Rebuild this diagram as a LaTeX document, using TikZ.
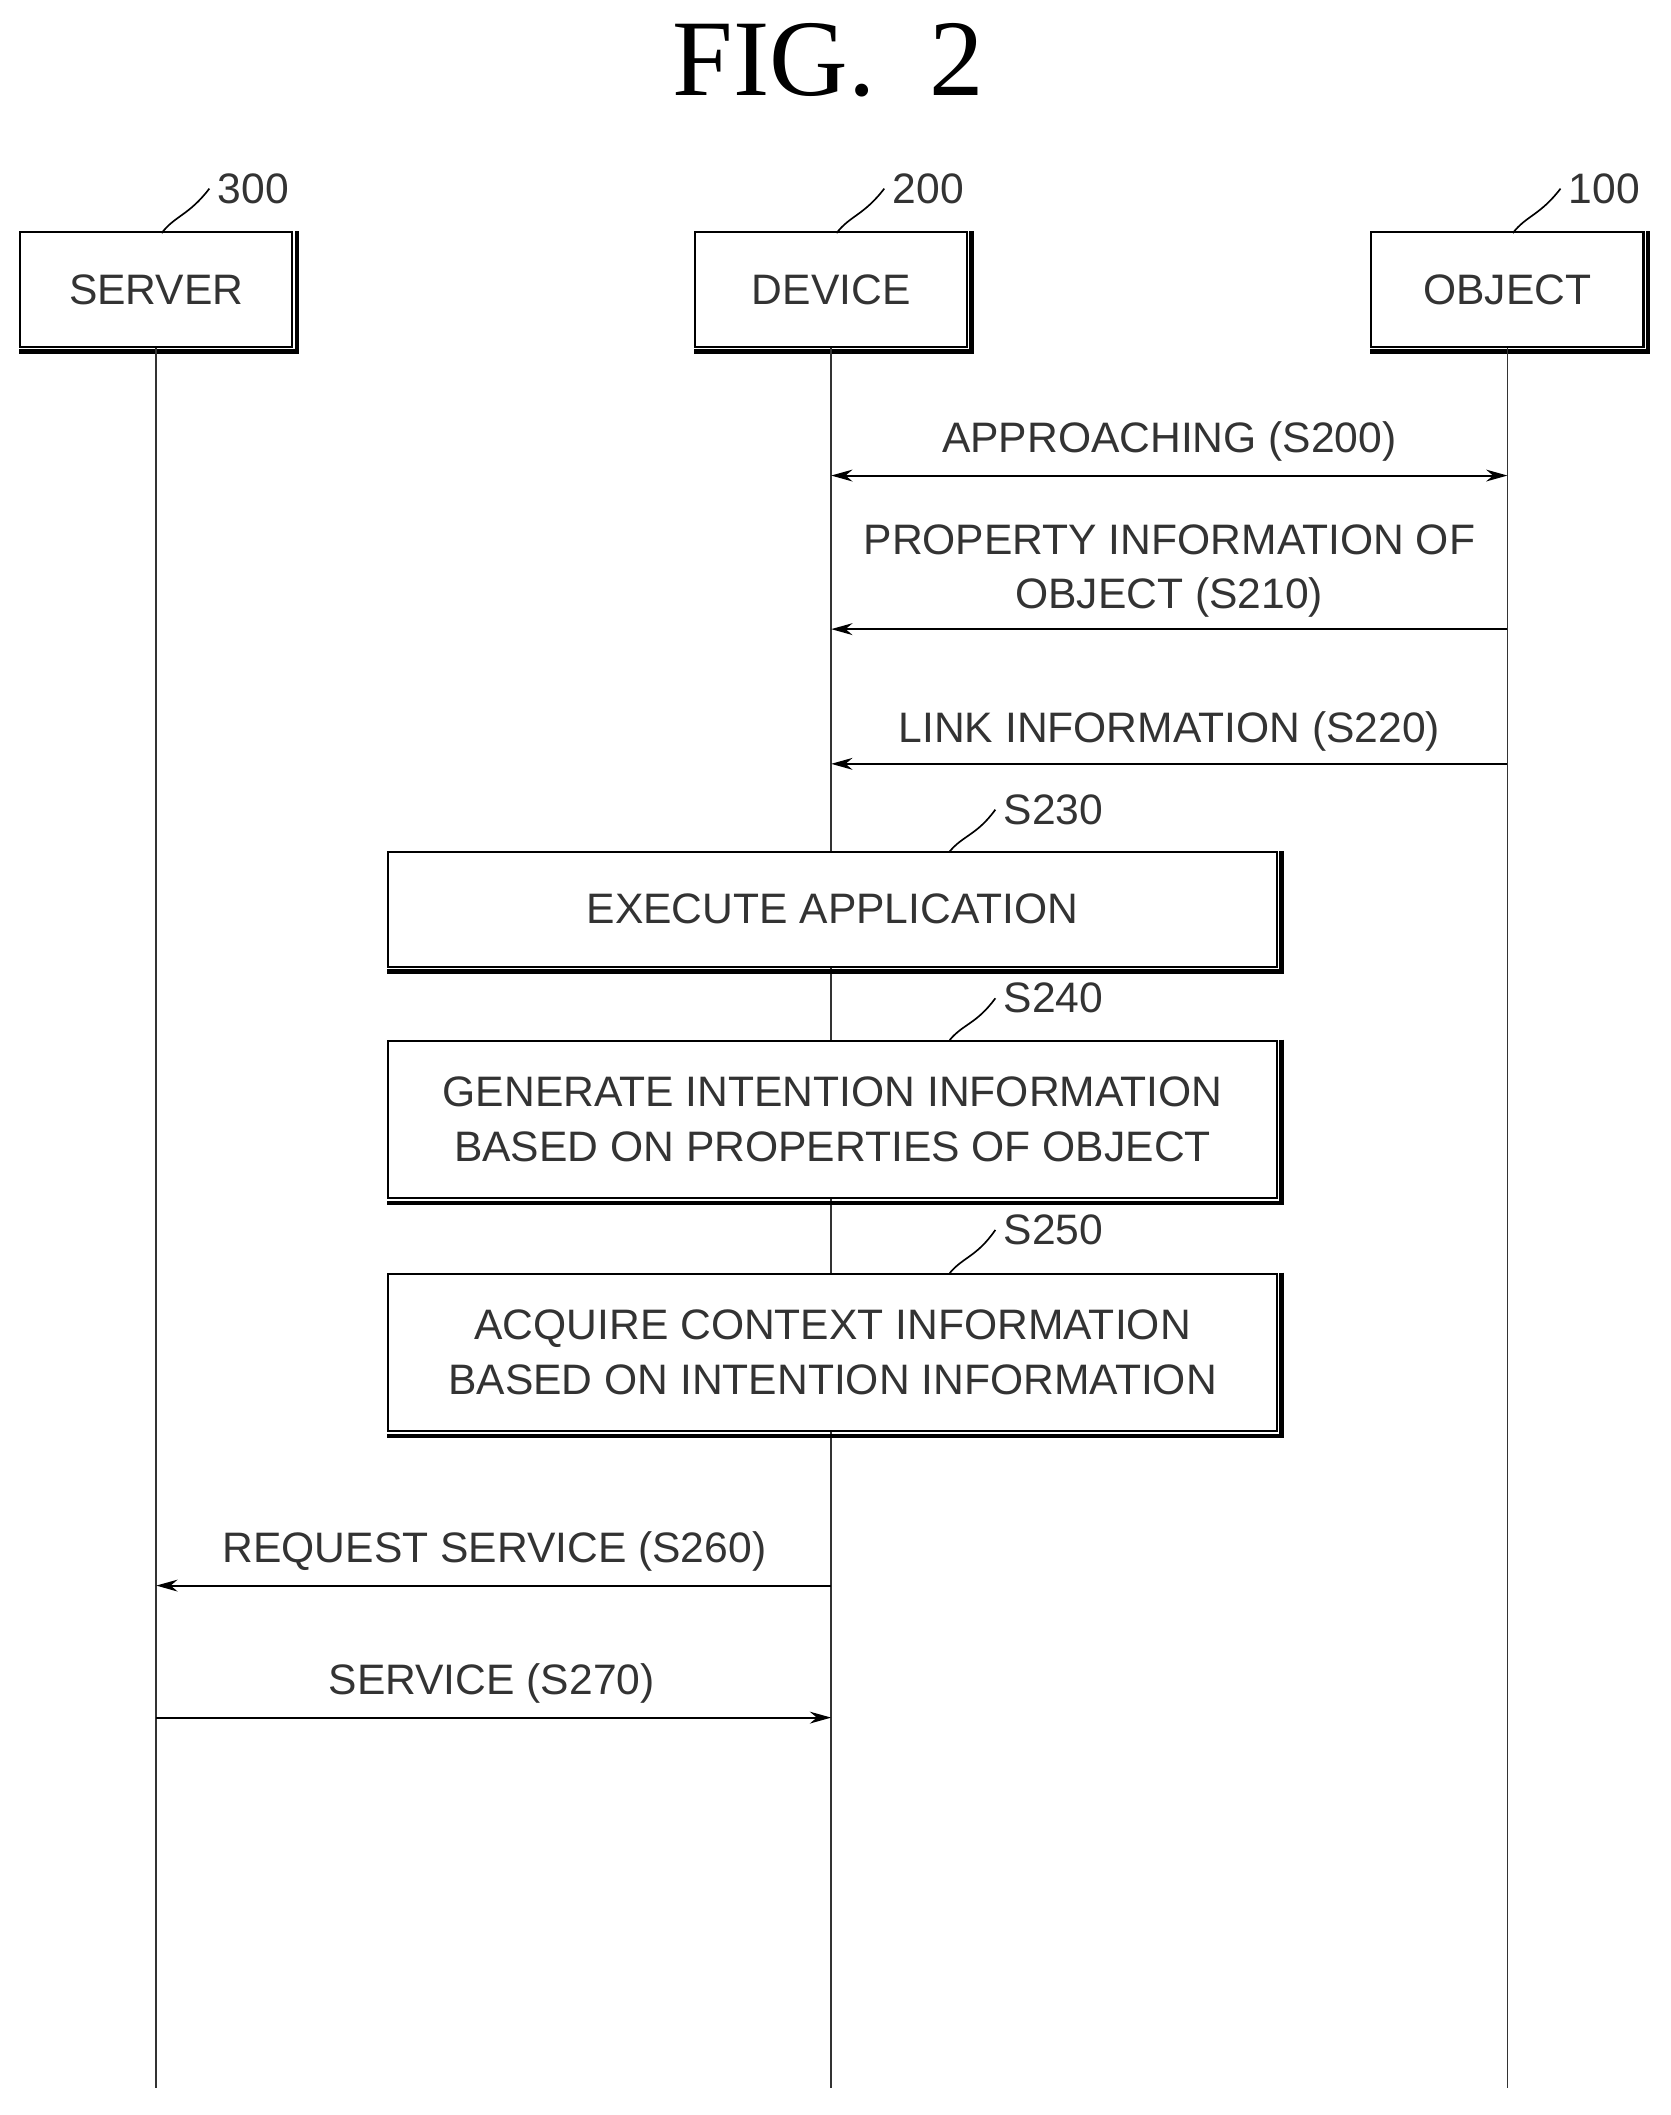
\documentclass[tikz,border=0pt]{standalone}
\usepackage{fontspec}
\setmainfont{Liberation Sans}
\newfontfamily\titlefont{Liberation Serif}
\usetikzlibrary{arrows.meta}
\begin{document}
\begin{tikzpicture}[x=0.02cm,y=-0.02cm,
  txt/.style={font=\fontsize{18}{23}\selectfont, text=black!80},
  ent/.style={draw, line width=0.9pt, minimum width=202*0.02cm, minimum height=85*0.02cm, txt},
  procbox/.style={draw, line width=0.9pt, minimum width=660*0.02cm, txt, align=center},
  life/.style={line width=0.8pt, black!80},
  msg/.style={line width=0.8pt, -{Stealth[length=9pt,width=5pt]}},
  lead/.style={line width=0.7pt}]
\useasboundingbox (0,0) rectangle (1240,1570);
\node[font=\titlefont\fontsize{46}{50}\selectfont] (title) at (615,45) {FIG.\ \ 2};
\node[ent] (srv) at (116,215) {SERVER};
\node[ent] (dev) at (617,215) {DEVICE};
\node[ent] (obj) at (1119,215) {OBJECT};
\foreach \b in {srv,dev,obj}{
\draw[line width=2pt] ([xshift=1.5pt]\b.north east) -- ([xshift=1.5pt,yshift=-1.5pt]\b.south east) -- ([yshift=-1.5pt]\b.south west);}
\node[txt] (l300) at (188,140) {300};
\node[txt] (l200) at (689,140) {200};
\node[txt] (l100) at (1191,140) {100};
\draw[lead] (120,173) .. controls (130,160) and (140,160) .. (l300.west);
\draw[lead] (621,173) .. controls (631,160) and (641,160) .. (l200.west);
\draw[lead] (1123,173) .. controls (1133,160) and (1143,160) .. (l100.west);
\coordinate (se) at (116,1550);
\coordinate (de) at (617,1550);
\coordinate (oe) at (1119,1550);
\draw[life] (srv.south) -- (se);
\draw[life] (dev.south) -- (de);
\draw[life] (obj.south) -- (oe);
\node[procbox, minimum height=85*0.02cm, fill=white] (s230) at (618,675) {EXECUTE APPLICATION};
\node[procbox, minimum height=117*0.02cm, fill=white] (s240) at (618,831) {GENERATE INTENTION INFORMATION\\BASED ON PROPERTIES OF OBJECT};
\node[procbox, minimum height=117*0.02cm, fill=white] (s250) at (618,1004) {ACQUIRE CONTEXT INFORMATION\\BASED ON INTENTION INFORMATION};
\foreach \b in {s230,s240,s250}{
\draw[line width=2pt] ([xshift=1.5pt]\b.north east) -- ([xshift=1.5pt,yshift=-1.5pt]\b.south east) -- ([yshift=-1.5pt]\b.south west);}
\node[txt] (t230) at (782,601) {S230};
\node[txt] (t240) at (782,741) {S240};
\node[txt] (t250) at (782,913) {S250};
\draw[lead] (705,632) .. controls (715,620) and (725,620) .. (t230.west);
\draw[lead] (705,772) .. controls (715,760) and (725,760) .. (t240.west);
\draw[lead] (705,945) .. controls (715,933) and (725,933) .. (t250.west);
\coordinate (d1) at (617,353); \coordinate (o1) at (1119,353);
\draw[line width=0.8pt, {Stealth[length=9pt,width=5pt]}-{Stealth[length=9pt,width=5pt]}] (d1) -- (o1);
\node[txt] (m1) at (868,328) {APPROACHING (S200)};
\coordinate (d2) at (617,467); \coordinate (o2) at (1119,467);
\draw[msg] (o2) -- (d2);
\node[txt, align=center] (m2) at (868,424) {PROPERTY INFORMATION OF\\OBJECT (S210)};
\coordinate (d3) at (617,567); \coordinate (o3) at (1119,567);
\draw[msg] (o3) -- (d3);
\node[txt] (m3) at (868,543) {LINK INFORMATION (S220)};
\coordinate (d4) at (617,1177); \coordinate (s4) at (116,1177);
\draw[msg] (d4) -- (s4);
\node[txt] (m4) at (367,1152) {REQUEST SERVICE (S260)};
\coordinate (d5) at (617,1275); \coordinate (s5) at (116,1275);
\draw[msg] (s5) -- (d5);
\node[txt] (m5) at (365,1250) {SERVICE (S270)};
\end{tikzpicture}
\end{document}
